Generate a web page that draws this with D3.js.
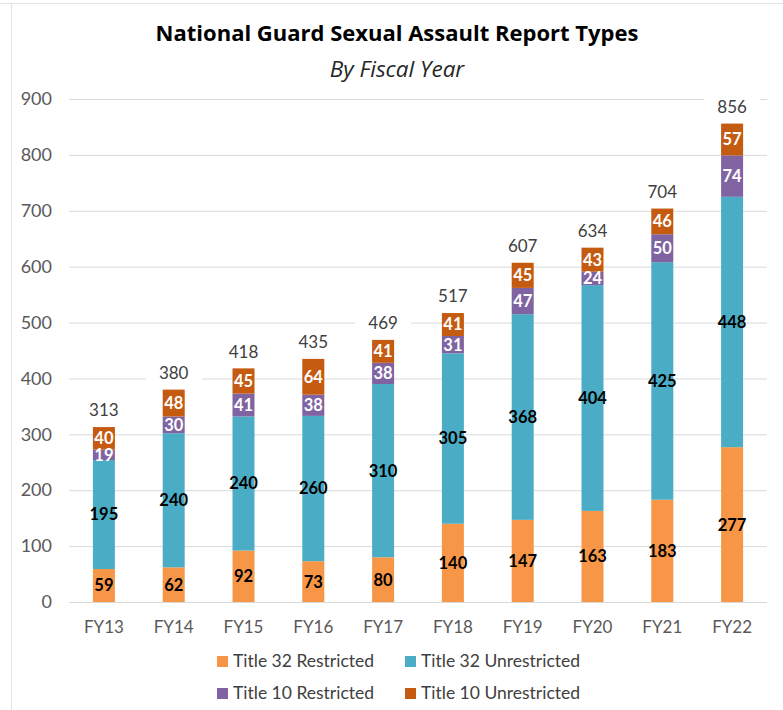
<!DOCTYPE html>
<html>
<head>
<meta charset="utf-8">
<script src="https://cdn.jsdelivr.net/npm/d3@7"></script>
<style>
  body { margin: 0; background: #fff; }
  text { font-family: Lato, "Open Sans", sans-serif; }
</style>
</head>
<body>
<div id="chart"></div>
<script>
// Chart values
const years = ["FY13", "FY14", "FY15", "FY16", "FY17", "FY18", "FY19", "FY20", "FY21", "FY22"];
const t32Restricted = [59, 62, 92, 73, 80, 140, 147, 163, 183, 277];
const t32Unrestricted = [195, 240, 240, 260, 310, 305, 368, 404, 425, 448];
const t10Restricted = [19, 30, 41, 38, 38, 31, 47, 24, 50, 74];
const t10Unrestricted = [40, 48, 45, 64, 41, 41, 45, 43, 46, 57];
const seriesNames = ["Title 32 Restricted", "Title 32 Unrestricted", "Title 10 Restricted", "Title 10 Unrestricted"];
const yTicks = [0, 100, 200, 300, 400, 500, 600, 700, 800, 900];

function drawChart() {
  const width = 783;
  const height = 710;

  // Declare the chart area.
  const marginTop = 99;
  const marginLeft = 69;
  const plotRight = 767;
  const plotBottom = 602;

  const colors = ["#F79646", "#4BACC6", "#8064A2", "#C55A11"];
  const labelColors = ["#000", "#000", "#fff", "#fff"];

  // Build rows for the stack from the arrays above.
  const keys = ["t32r", "t32u", "t10r", "t10u"];
  const rows = years.map((yr, i) => ({
    year: yr,
    t32r: t32Restricted[i],
    t32u: t32Unrestricted[i],
    t10r: t10Restricted[i],
    t10u: t10Unrestricted[i],
  }));
  const stacked = d3.stack().keys(keys)(rows);

  const x = d3
    .scaleBand()
    .domain(years)
    .range([marginLeft, plotRight])
    .paddingInner(0.685)
    .paddingOuter(0.3425);

  const y = d3.scaleLinear().domain([0, 900]).range([plotBottom, marginTop]);

  const svg = d3
    .create("svg")
    .attr("width", width)
    .attr("height", height)
    .attr("viewBox", [0, 0, width, height]);

  // Frame edges seen in the picture
  svg.append("line")
    .attr("x1", 0).attr("x2", width).attr("y1", 3.5).attr("y2", 3.5)
    .attr("stroke", "#e3e3e3");
  svg.append("line")
    .attr("x1", 11.5).attr("x2", 11.5).attr("y1", 3.5).attr("y2", height)
    .attr("stroke", "#e3e3e3");

  // Title
  svg.append("text")
    .attr("x", 397)
    .attr("y", 41)
    .attr("text-anchor", "middle")
    .style("font-family", "'Open Sans', sans-serif")
    .attr("font-size", "22px")
    .attr("font-weight", "bold")
    .attr("fill", "#000")
    .text("National Guard Sexual Assault Report Types");

  svg.append("text")
    .attr("x", 397)
    .attr("y", 77)
    .attr("text-anchor", "middle")
    .style("font-family", "'Open Sans', sans-serif")
    .attr("font-size", "22.5px")
    .attr("font-style", "italic")
    .attr("fill", "#262626")
    .text("By Fiscal Year");

  // Y axis with gridlines
  svg.append("g")
    .attr("transform", `translate(${marginLeft},0)`)
    .call(
      d3.axisLeft(y)
        .tickValues(yTicks)
        .tickSizeInner(-(plotRight - marginLeft))
        .tickSizeOuter(0)
        .tickPadding(17)
    )
    .call((g) => g.select(".domain").remove())
    .call((g) => g.selectAll(".tick line").attr("stroke", "#d9d9d9"))
    .call((g) =>
      g.selectAll(".tick text")
        .attr("fill", "#595959")
        .attr("font-size", "18px")
    );

  // X axis
  svg.append("g")
    .attr("transform", `translate(0,${plotBottom})`)
    .call(d3.axisBottom(x).tickSize(0).tickPadding(19))
    .call((g) => g.select(".domain").remove())
    .call((g) =>
      g.selectAll(".tick text")
        .attr("fill", "#595959")
        .attr("font-size", "17px")
    );

  // Stacked bars
  const layer = svg.append("g")
    .selectAll("g")
    .data(stacked)
    .join("g")
    .attr("fill", (d, i) => colors[i]);

  layer.selectAll("rect")
    .data((d) => d)
    .join("rect")
    .attr("x", (d) => x(d.data.year))
    .attr("y", (d) => y(d[1]))
    .attr("width", x.bandwidth())
    .attr("height", (d) => y(d[0]) - y(d[1]));

  // Segment labels
  stacked.forEach((s, i) => {
    svg.append("g")
      .selectAll("text")
      .data(s)
      .join("text")
      .attr("x", (d) => x(d.data.year) + x.bandwidth() / 2)
      .attr("y", (d) => (y(d[0]) + y(d[1])) / 2)
      .attr("dy", "0.36em")
      .attr("text-anchor", "middle")
      .attr("font-size", "16.5px")
      .attr("font-weight", "bold")
      .attr("fill", labelColors[i])
      .text((d) => d[1] - d[0]);
  });

  // Totals with a white box behind them
  const top = stacked[stacked.length - 1];
  const totals = svg.append("g")
    .selectAll("g")
    .data(top)
    .join("g")
    .attr("transform", (d) => `translate(${x(d.data.year) + x.bandwidth() / 2},${y(d[1]) - 17})`);

  totals.append("rect")
    .attr("x", -28)
    .attr("y", -10)
    .attr("width", 56)
    .attr("height", 20)
    .attr("fill", "#fff");

  totals.append("text")
    .attr("text-anchor", "middle")
    .attr("dy", "0.36em")
    .attr("font-size", "17px")
    .attr("fill", "#404040")
    .text((d) => d[1]);

  // Legend
  const legendPos = [
    [217, 661], [405, 661],
    [217, 693], [405, 693],
  ];
  const legend = svg.append("g")
    .selectAll("g")
    .data(seriesNames)
    .join("g")
    .attr("transform", (d, i) => `translate(${legendPos[i][0]},${legendPos[i][1]})`);

  legend.append("rect")
    .attr("x", 0)
    .attr("y", -5)
    .attr("width", 11)
    .attr("height", 11)
    .attr("fill", (d, i) => colors[i]);

  legend.append("text")
    .attr("x", 16)
    .attr("dy", "0.36em")
    .attr("font-size", "17.5px")
    .attr("fill", "#404040")
    .text((d) => d);

  return svg.node();
}

document.getElementById("chart").appendChild(drawChart());
</script>
</body>
</html>
